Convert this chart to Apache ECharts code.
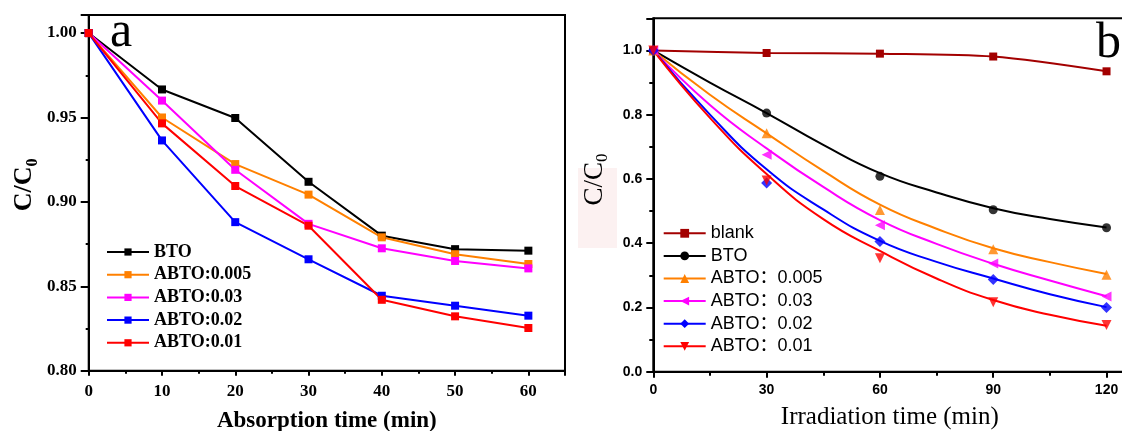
<!DOCTYPE html>
<html>
<head>
<meta charset="utf-8">
<script src="https://cdn.jsdelivr.net/npm/echarts@6/dist/echarts.min.js"></script>
<style>
  html, body { margin: 0; padding: 0; background: #fff; }
  #chart { width: 1122px; height: 431px; }
</style>
</head>
<body>
<div id="chart"></div>
<script>
// panel a: absorption in the dark
const absTime = [0, 10, 20, 30, 40, 50, 60];
const absBTO = [1.0, 0.9666, 0.9497, 0.9119, 0.880, 0.872, 0.8711];
const absA005 = [1.0, 0.950, 0.9224, 0.9043, 0.879, 0.869, 0.8632];
const absA003 = [1.0, 0.960, 0.919, 0.887, 0.8725, 0.865, 0.8606];
const absA002 = [1.0, 0.9364, 0.888, 0.866, 0.8444, 0.8385, 0.8326];
const absA001 = [1.0, 0.9465, 0.9094, 0.8859, 0.842, 0.8322, 0.8253];
const absNames = ['BTO', 'ABTO:0.005', 'ABTO:0.03', 'ABTO:0.02', 'ABTO:0.01'];

// panel b: irradiation, measured points
const irrTime = [0, 30, 60, 90, 120];
const irrBlank = [1.0, 0.992, 0.990, 0.981, 0.935];
const irrBTO = [1.0, 0.805, 0.608, 0.504, 0.448];
const irrA005 = [1.0, 0.742, 0.503, 0.381, 0.302];
const irrA003 = [1.0, 0.675, 0.456, 0.337, 0.234];
const irrA002 = [1.0, 0.587, 0.405, 0.287, 0.200];
const irrA001 = [1.0, 0.595, 0.353, 0.216, 0.145];
// panel b: fitted curves
const fitTime = [0, 15, 30, 45, 60, 75, 90, 105, 120];
const fitBTO = [1.0, 0.900, 0.805, 0.706, 0.618, 0.558, 0.509, 0.475, 0.449];
const fitA005 = [1.0, 0.862, 0.742, 0.625, 0.520, 0.445, 0.384, 0.341, 0.304];
const fitA003 = [1.0, 0.830, 0.695, 0.575, 0.472, 0.398, 0.336, 0.284, 0.235];
const fitA002 = [1.0, 0.800, 0.630, 0.505, 0.407, 0.342, 0.290, 0.241, 0.201];
const fitA001 = [1.0, 0.790, 0.615, 0.475, 0.376, 0.290, 0.223, 0.177, 0.143];
const irrNames = ['blank', 'BTO', 'ABTO：0.005', 'ABTO：0.03', 'ABTO：0.02', 'ABTO：0.01'];

const serif = '"Liberation Serif", "DejaVu Serif", serif';
const sans = '"Liberation Sans", Arial, "Noto Sans CJK SC", sans-serif';

const colors = {
  blank: '#a30000',
  bto: '#000000',
  a005: '#ff8000',
  a003: '#ff00ff',
  a002: '#0000ff',
  a001: '#ff0000'
};

function pairs(xs, ys) {
  return xs.map((x, i) => [x, ys[i]]);
}

function absLine(name, ys, color) {
  return {
    name: name,
    type: 'line',
    xAxisIndex: 0,
    yAxisIndex: 0,
    data: pairs(absTime, ys),
    symbol: 'rect',
    symbolSize: 8,
    lineStyle: { color: color, width: 2 },
    itemStyle: { color: color },
    z: 3
  };
}

// right panel: fitted curve (legend icon) + measured markers
function irrSeries(key, name, fit, pts, symbol, rot, size) {
  let c = colors[key];
  return [{
    name: 'b-' + name,
    type: 'line',
    xAxisIndex: 1,
    yAxisIndex: 1,
    data: pairs(fitTime, fit),
    smooth: 0.5,
    showSymbol: false,
    symbol: symbol,
    symbolRotate: rot,
    lineStyle: { color: c, width: 2 },
    itemStyle: { color: c },
    z: 3
  }, {
    name: 'b-' + name,
    type: 'scatter',
    xAxisIndex: 1,
    yAxisIndex: 1,
    data: pairs(irrTime, pts),
    symbol: symbol,
    symbolRotate: rot,
    symbolSize: size,
    itemStyle: { color: c },
    z: 4
  }];
}

let chart = echarts.init(document.getElementById('chart'));

let tickLabelA = { fontFamily: serif, fontWeight: 'bold', fontSize: 17, color: '#000' };
let tickLabelB = { fontFamily: sans, fontWeight: 'bold', fontSize: 14, color: '#000' };

let option = {
  animation: false,
  backgroundColor: '#fff',
  grid: [{
    left: 88.7,
    top: 15,
    right: 557,
    bottom: 60.3,
    show: true,
    borderColor: '#000',
    borderWidth: 2,
    outerBoundsMode: 'none'
  }, {
    left: 653.3,
    top: 18.3,
    width: 491,
    bottom: 59.3,
    show: true,
    borderColor: '#000',
    borderWidth: 2,
    outerBoundsMode: 'none'
  }],
  xAxis: [{
    gridIndex: 0,
    type: 'value',
    min: 0,
    max: 65,
    interval: 10,
    name: 'Absorption time (min)',
    nameLocation: 'middle',
    nameGap: 39,
    nameTextStyle: { fontFamily: serif, fontWeight: 'bold', fontSize: 23, color: '#000' },
    axisLine: { show: true, lineStyle: { color: '#000', width: 2 } },
    axisTick: { show: true, length: 5, lineStyle: { color: '#000', width: 2 } },
    minorTick: { show: true, splitNumber: 2, length: 3, lineStyle: { color: '#000', width: 2 } },
    axisLabel: Object.assign({
      margin: 12,
      formatter: function (v) { return v % 10 === 0 ? String(v) : ''; }
    }, tickLabelA),
    splitLine: { show: false }
  }, {
    gridIndex: 1,
    type: 'value',
    min: 0,
    max: 130,
    interval: 30,
    name: 'Irradiation time (min)',
    nameLocation: 'middle',
    nameGap: 33,
    nameTextStyle: { fontFamily: serif, fontSize: 25, color: '#000', padding: [0, 18, 0, 0] },
    axisLine: { show: true, lineStyle: { color: '#000', width: 2 } },
    axisTick: { show: true, length: 6, lineStyle: { color: '#000', width: 2 } },
    minorTick: { show: true, splitNumber: 2, length: 4, lineStyle: { color: '#000', width: 2 } },
    axisLabel: Object.assign({
      margin: 11,
      formatter: function (v) { return v % 30 === 0 ? String(v) : ''; }
    }, tickLabelB),
    splitLine: { show: false }
  }],
  yAxis: [{
    gridIndex: 0,
    type: 'value',
    min: 0.80,
    max: 1.0107,
    interval: 0.05,
    name: '{c|C/C}{s|0}',
    nameLocation: 'middle',
    nameGap: 48,
    nameTextStyle: {
      padding: [0, 0, 0, 16],
      rich: {
        c: { fontFamily: serif, fontWeight: 'bold', fontSize: 26, lineHeight: 32, color: '#000' },
        s: { fontFamily: serif, fontWeight: 'bold', fontSize: 16, lineHeight: 16, verticalAlign: 'bottom', color: '#000' }
      }
    },
    axisLine: { show: true, lineStyle: { color: '#000', width: 2 } },
    axisTick: { show: true, length: 8, lineStyle: { color: '#000', width: 2 } },
    minorTick: { show: true, splitNumber: 2, length: 3, lineStyle: { color: '#000', width: 2 } },
    axisLabel: Object.assign({
      margin: 12,
      formatter: function (v) {
        let k = v / 0.05;
        return Math.abs(k - Math.round(k)) < 1e-6 ? v.toFixed(2) : '';
      }
    }, tickLabelA),
    splitLine: { show: false }
  }, {
    gridIndex: 1,
    type: 'value',
    min: 0,
    max: 1.1,
    interval: 0.2,
    name: '{c|C/C}{s|0}',
    nameLocation: 'middle',
    nameGap: 42,
    nameTextStyle: {
      padding: [0, 0, 0, 31],
      rich: {
        c: { fontFamily: serif, fontSize: 27, lineHeight: 33, color: '#000' },
        s: { fontFamily: serif, fontSize: 17, lineHeight: 17, verticalAlign: 'bottom', color: '#000' }
      }
    },
    axisLine: { show: true, lineStyle: { color: '#000', width: 2 } },
    axisTick: { show: true, length: 7, lineStyle: { color: '#000', width: 2 } },
    minorTick: { show: true, splitNumber: 2, length: 4, lineStyle: { color: '#000', width: 2 } },
    axisLabel: Object.assign({
      margin: 11,
      formatter: function (v) { return v <= 1.0001 ? v.toFixed(1) : ''; }
    }, tickLabelB),
    splitLine: { show: false }
  }],
  legend: [{
    orient: 'vertical',
    left: 106,
    top: 243,
    padding: 0,
    itemWidth: 42,
    itemHeight: 9,
    itemGap: 4.7,
    selectedMode: false,
    data: absNames,
    textStyle: { fontFamily: serif, fontWeight: 'bold', fontSize: 18, lineHeight: 18, color: '#000' }
  }, {
    orient: 'vertical',
    left: 662.7,
    top: 224.3,
    padding: 0,
    itemWidth: 42,
    itemHeight: 11,
    itemGap: 4.6,
    selectedMode: false,
    data: irrNames.map(n => 'b-' + n),
    formatter: function (n) { return n.slice(2); },
    textStyle: { fontFamily: sans, fontSize: 18, lineHeight: 18, color: '#000' }
  }],
  graphic: [{
    type: 'rect',
    shape: { x: 578, y: 168, width: 39, height: 80 },
    style: { fill: '#fcf1f1' },
    z: -10,
    silent: true
  }, {
    type: 'text',
    x: 110,
    y: 33,
    style: { text: 'a', font: '50px ' + serif, fill: '#000', textAlign: 'left', textVerticalAlign: 'middle' },
    z: 10
  }, {
    type: 'text',
    x: 1096,
    y: 44,
    style: { text: 'b', font: '50px ' + serif, fill: '#000', textAlign: 'left', textVerticalAlign: 'middle' },
    z: 10
  }],
  series: [
    absLine(absNames[0], absBTO, colors.bto),
    absLine(absNames[1], absA005, colors.a005),
    absLine(absNames[2], absA003, colors.a003),
    absLine(absNames[3], absA002, colors.a002),
    absLine(absNames[4], absA001, colors.a001),
    {
      name: 'b-' + irrNames[0],
      type: 'line',
      xAxisIndex: 1,
      yAxisIndex: 1,
      data: pairs(irrTime, irrBlank),
      smooth: 0.3,
      symbol: 'rect',
      symbolSize: 8,
      lineStyle: { color: colors.blank, width: 2 },
      itemStyle: { color: colors.blank },
      z: 3
    }
  ].concat(
    irrSeries('bto', irrNames[1], fitBTO, irrBTO, 'circle', 0, 9),
    irrSeries('a005', irrNames[2], fitA005, irrA005, 'triangle', 0, 10),
    irrSeries('a003', irrNames[3], fitA003, irrA003, 'triangle', 90, 10),
    irrSeries('a002', irrNames[4], fitA002, irrA002, 'diamond', 0, 11),
    irrSeries('a001', irrNames[5], fitA001, irrA001, 'triangle', 180, 10)
  )
};

chart.setOption(option);
</script>
</body>
</html>
